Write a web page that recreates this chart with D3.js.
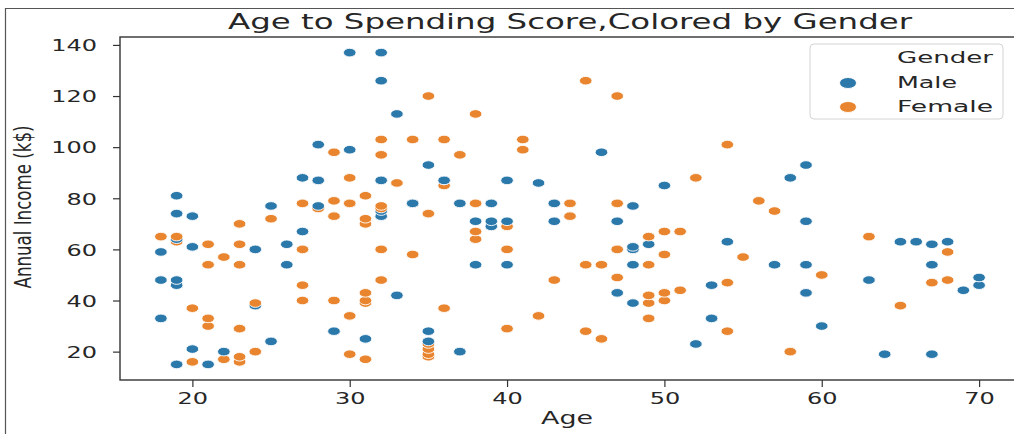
<!DOCTYPE html>
<html>
<head>
<meta charset="utf-8">
<script src="https://cdn.jsdelivr.net/npm/d3@7"></script>
<style>
  html, body { margin: 0; padding: 0; background: #fff; }
  svg { display: block; }
  text { font-family: "DejaVu Sans", sans-serif; fill: #262626; }
</style>
</head>
<body>
<div id="chart"></div>
<script>
// ---------------- data ----------------
const ages = [19,21,20,23,31,22,35,23,64,30,67,35,58,24,37,22,35,20,52,35,
  35,25,46,31,54,29,45,35,40,23,60,21,53,18,49,21,42,30,36,20,
  65,24,48,31,49,24,50,27,29,31,49,33,31,59,50,47,51,69,27,53,
  70,19,67,54,63,18,43,68,19,32,70,47,60,60,59,26,45,40,23,49,
  57,38,67,46,21,48,55,22,34,50,68,18,48,40,32,24,47,27,48,20,
  23,49,67,26,49,21,66,54,68,66,65,19,38,19,18,19,63,49,51,50,
  27,38,40,39,23,31,43,40,59,38,47,39,25,31,20,29,44,32,19,35,
  57,32,28,32,25,28,48,32,34,34,43,39,44,38,47,27,37,30,34,30,
  56,29,19,31,50,36,42,33,36,32,40,28,36,36,52,30,58,27,59,35,
  37,32,46,29,41,30,54,28,41,36,34,32,33,38,47,35,45,32,32,30];
const incomes = [15,15,16,16,17,17,18,18,19,19,19,19,20,20,20,20,21,21,23,23,
  24,24,25,25,28,28,28,28,29,29,30,30,33,33,33,33,34,34,37,37,
  38,38,39,39,39,39,40,40,40,40,42,42,43,43,43,43,44,44,46,46,
  46,46,47,47,48,48,48,48,48,48,49,49,50,50,54,54,54,54,54,54,
  54,54,54,54,54,54,57,57,58,58,59,59,60,60,60,60,60,60,61,61,
  62,62,62,62,62,62,63,63,63,63,63,63,64,64,65,65,65,65,67,67,
  67,67,69,69,70,70,71,71,71,71,71,71,72,72,73,73,73,73,74,74,
  75,75,76,76,77,77,77,77,78,78,78,78,78,78,78,78,78,78,78,78,
  79,79,81,81,85,85,86,86,87,87,87,87,87,87,88,88,88,88,93,93,
  97,97,98,98,99,99,101,101,103,103,103,103,113,113,120,120,126,126,137,137];
const genderCodes = ("MMFFFFFFMFMFFFMMFMMF" + "MMFMFMFMFFMFMMFFFFFF" +
  "FMMFFFFFFFFMFMFMFMFM" + "MMFFMMFFMFMFFFMMFMFF" +
  "MMMFFMFFFFFMMFFMFFMM" + "FFMMMFFMMMMFFMFFFFFF" +
  "MFFMFFMMMMMMFFMFFMMF" + "FMFFMMMFFMMMFFFFMFMF" +
  "FFMFMFMFFMMMMMFFMMMM" + "FFMFFMFMFFFFMFFFFMMM").split("");
const genderNames = { M: "Male", F: "Female" };
const hueOrder = ["Male", "Female"];
const hueColors = ["#2b78ab", "#e8852e"];
const xTicks = [20, 30, 40, 50, 60, 70];
const yTicks = [20, 40, 60, 80, 100, 120, 140];
const titleText = "Age to Spending Score,Colored by Gender";
const xLabel = "Age";
const yLabel = "Annual Income (k$)";
const legendTitle = "Gender";

// ---------------- layout ----------------
const W = 1014, H = 434;
const plot = { left: 120, right: 1020, top: 37, bottom: 380 };
const SX = 1.5; // horizontal stretch of the reference image

const svg = d3.select("#chart").append("svg").attr("width", W).attr("height", H);

// outer screenshot border
svg.append("line").attr("x1", 5.5).attr("x2", 5.5).attr("y1", 8).attr("y2", H)
  .attr("stroke", "#555").attr("stroke-width", 1.2);
svg.append("line").attr("x1", 5).attr("x2", W).attr("y1", 8.5).attr("y2", 8.5)
  .attr("stroke", "#555").attr("stroke-width", 1.2);

const pad = v => v; 
const ageExt = d3.extent(ages), incExt = d3.extent(incomes);
const xm = (ageExt[1] - ageExt[0]) * 0.05, ym = (incExt[1] - incExt[0]) * 0.05;
const x = d3.scaleLinear().domain([ageExt[0] - xm, ageExt[1] + xm]).range([plot.left, plot.right]);
const y = d3.scaleLinear().domain([incExt[0] - ym, incExt[1] + ym]).range([plot.bottom, plot.top]);
const color = d3.scaleOrdinal().domain(hueOrder).range(hueColors);

// points
const data = ages.map((a, i) => ({ age: a, income: incomes[i], gender: genderNames[genderCodes[i]] }));
svg.append("g").selectAll("ellipse").data(data).join("ellipse")
  .attr("cx", d => x(d.age)).attr("cy", d => y(d.income))
  .attr("rx", 6.3).attr("ry", 4.3)
  .attr("fill", d => color(d.gender))
  .attr("stroke", "#fff").attr("stroke-width", 0.9);

// axes
const gx = svg.append("g").attr("transform", `translate(0,${plot.bottom})`)
  .call(d3.axisBottom(x).tickValues(xTicks).tickSize(7).tickFormat(d3.format("d")));
gx.select(".domain").remove();
gx.selectAll(".tick line").attr("stroke", "#333").attr("stroke-width", 1.2);
gx.selectAll(".tick text").attr("y", 24).attr("dy", 0).attr("x", 0)
  .attr("transform", `scale(${SX},1)`)
  .style("font-family", "DejaVu Sans").style("font-size", "16px").attr("fill", "#333");

const gy = svg.append("g").attr("transform", `translate(${plot.left},0)`)
  .call(d3.axisLeft(y).tickValues(yTicks).tickSize(7).tickFormat(d3.format("d")));
gy.select(".domain").remove();
gy.selectAll(".tick line").attr("stroke", "#333").attr("stroke-width", 1.2);
gy.selectAll(".tick text").attr("x", 0).attr("dy", "0.36em")
  .attr("transform", `translate(-23,0) scale(${SX},1)`)
  .style("font-family", "DejaVu Sans").style("font-size", "16px").attr("fill", "#333");

// frame
svg.append("rect").attr("x", plot.left).attr("y", plot.top)
  .attr("width", plot.right - plot.left).attr("height", plot.bottom - plot.top)
  .attr("fill", "none").attr("stroke", "#333").attr("stroke-width", 1.4);

// title
svg.append("text").attr("x", 570).attr("y", 29).attr("text-anchor", "middle")
  .attr("textLength", 684).attr("lengthAdjust", "spacingAndGlyphs")
  .style("font-size", "22px").text(titleText);

// axis labels
svg.append("text").attr("x", 567).attr("y", 424).attr("text-anchor", "middle")
  .attr("textLength", 52).attr("lengthAdjust", "spacingAndGlyphs")
  .style("font-size", "17px").text(xLabel);
svg.append("text").attr("transform", `translate(31,207) rotate(-90) scale(1,${SX})`)
  .attr("text-anchor", "middle")
  .attr("textLength", 163).attr("lengthAdjust", "spacingAndGlyphs")
  .style("font-size", "15px").text(yLabel);

// legend
const lg = svg.append("g");
lg.append("rect").attr("x", 810).attr("y", 44).attr("width", 193).attr("height", 75)
  .attr("rx", 4).attr("fill", "#fff").attr("fill-opacity", 0.85)
  .attr("stroke", "#d4d4d4").attr("stroke-width", 1);
lg.append("text").attr("x", 897).attr("y", 63)
  .attr("textLength", 96).attr("lengthAdjust", "spacingAndGlyphs")
  .style("font-size", "16px").text(legendTitle);
const legendLens = { Male: 60, Female: 96 };
hueOrder.forEach((g, i) => {
  const cy = 83 + i * 24;
  lg.append("ellipse").attr("cx", 848).attr("cy", cy).attr("rx", 8.5).attr("ry", 5.5)
    .attr("fill", color(g)).attr("stroke", "#fff").attr("stroke-width", 0.9);
  lg.append("text").attr("x", 897).attr("y", cy + 5)
    .attr("textLength", legendLens[g]).attr("lengthAdjust", "spacingAndGlyphs")
    .style("font-size", "16px").text(g);
});
</script>
</body>
</html>
